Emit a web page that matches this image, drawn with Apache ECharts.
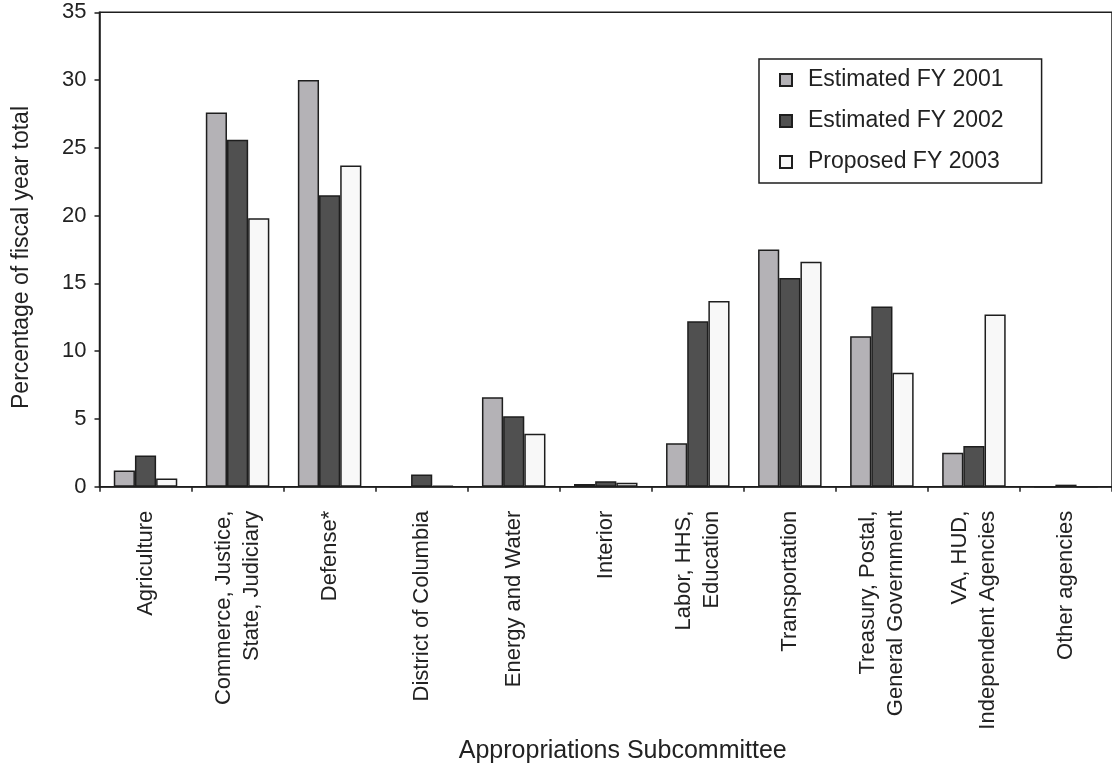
<!DOCTYPE html>
<html>
<head>
<meta charset="utf-8">
<script src="https://cdn.jsdelivr.net/npm/echarts@6/dist/echarts.min.js"></script>
<style>
  html, body { margin: 0; padding: 0; background: #fff; }
  #chart { width: 1112px; height: 774px; }
</style>
</head>
<body>
<div id="chart"></div>
<script>
const categories = [
  'Agriculture',
  'Commerce, Justice,\nState, Judiciary',
  'Defense*',
  'District of Columbia',
  'Energy and Water',
  'Interior',
  'Labor, HHS,\nEducation',
  'Transportation',
  'Treasury, Postal,\nGeneral Government',
  'VA, HUD,\nIndependent Agencies',
  'Other agencies'
]
const fy2001 = [1.2, 27.6, 30.0, 0, 6.6, 0.2, 3.2, 17.5, 11.1, 2.5, 0]
const fy2002 = [2.3, 25.6, 21.5, 0.9, 5.2, 0.4, 12.2, 15.4, 13.3, 3.0, 0.15]
const fy2003 = [0.6, 19.8, 23.7, 0.05, 3.9, 0.3, 13.7, 16.6, 8.4, 12.7, 0]
const yTicks = { min: 0, max: 35, interval: 5 }

const font = '"Liberation Sans", Arial, sans-serif'
const ink = '#1e1e1e'

const chart = echarts.init(document.getElementById('chart'))

function barSeries(name, data, color) {
  return {
    name,
    type: 'bar',
    data,
    barGap: '0%',
    barCategoryGap: '31%',
    itemStyle: { color, borderColor: ink, borderWidth: 1.5 },
  }
}

chart.setOption({
  animation: false,
  backgroundColor: '#fff',
  textStyle: { fontFamily: font },
  grid: {
    left: 99.5,
    top: 12.3,
    bottom: 774 - 486.7,
    right: -8,
    show: true,
    borderColor: ink,
    borderWidth: 1.5,
    backgroundColor: 'transparent',
  },
  legend: {
    orient: 'vertical',
    left: 759,
    top: 59,
    padding: [9, 38, 9, 20],
    icon: 'rect',
    itemWidth: 12,
    itemHeight: 12,
    itemGap: 17,
    borderColor: ink,
    borderWidth: 1.5,
    selectedMode: false,
    textStyle: { fontSize: 23, lineHeight: 24, color: '#222', fontFamily: font, padding: [0, 0, 0, 11] },
    data: ['Estimated FY 2001', 'Estimated FY 2002', 'Proposed FY 2003'],
  },
  xAxis: {
    type: 'category',
    data: categories,
    name: 'Appropriations Subcommittee',
    nameLocation: 'middle',
    nameGap: 252,
    nameTextStyle: { fontSize: 25, color: '#222', fontFamily: font, padding: [0, 0, 0, 34] },
    axisLine: { lineStyle: { color: ink, width: 1.5 } },
    axisTick: { show: true, length: 5, lineStyle: { color: ink, width: 1.5 } },
    axisLabel: {
      rotate: 90,
      interval: 0,
      margin: 24,
      fontSize: 22,
      lineHeight: 28,
      color: '#222',
      fontFamily: font,
    },
  },
  yAxis: {
    type: 'value',
    min: yTicks.min,
    max: yTicks.max,
    interval: yTicks.interval,
    name: 'Percentage of fiscal year total',
    nameLocation: 'middle',
    nameGap: 66,
    nameTextStyle: { fontSize: 23, color: '#222', fontFamily: font, padding: [0, 16, 0, 0] },
    splitLine: { show: false },
    axisLine: { show: true, lineStyle: { color: ink, width: 1.5 } },
    axisTick: { show: true, length: 5, lineStyle: { color: ink, width: 1.5 } },
    axisLabel: { fontSize: 22, margin: 13, color: '#222', fontFamily: font },
  },
  series: [
    barSeries('Estimated FY 2001', fy2001, '#b4b2b6'),
    barSeries('Estimated FY 2002', fy2002, '#505050'),
    barSeries('Proposed FY 2003', fy2003, '#f8f8f8'),
  ],
})
</script>
</body>
</html>
